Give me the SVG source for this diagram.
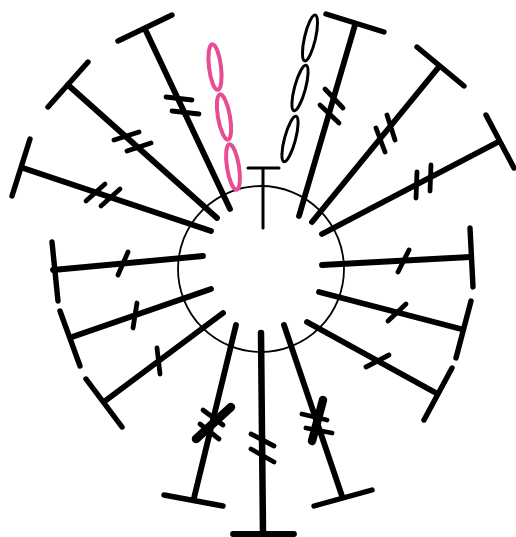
<svg xmlns="http://www.w3.org/2000/svg" width="516" height="537" viewBox="0 0 516 537">
<style>
.s{fill:none;stroke:#000;stroke-linecap:round;stroke-width:5.8}
.b{stroke-width:5.4}
.t{stroke-width:4.8}
.k{stroke-width:8.5}
.r{fill:none;stroke:#000;stroke-width:1.8}
.c{fill:none;stroke:#000;stroke-width:3;stroke-linecap:round}
.e{fill:none;stroke:#000;stroke-width:3}
.p{fill:none;stroke:#e64d94;stroke-width:4}
</style>
<rect width="516" height="537" fill="#fff"/>
<g id="ring"><circle class="r" cx="261" cy="269" r="83"/></g>
<g id="center-stitch"><path class="c" d="M263 228V168M248 168H279"/></g>
<g id="pink-chain">
<ellipse class="p" cx="215" cy="67" rx="6" ry="23" transform="rotate(-7 215 67)"/>
<ellipse class="p" cx="224" cy="117" rx="6" ry="23" transform="rotate(-10 224 117)"/>
<ellipse class="p" cx="233" cy="167" rx="6" ry="23" transform="rotate(-9 233 167)"/>
</g>
<g id="black-chain">
<ellipse class="e" cx="310" cy="38" rx="5.5" ry="23.5" transform="rotate(13 310 38)"/>
<ellipse class="e" cx="300" cy="88" rx="5.5" ry="23.5" transform="rotate(15 300 88)"/>
<ellipse class="e" cx="290" cy="139" rx="5.5" ry="23.5" transform="rotate(15 290 139)"/>
</g>
<g id="spoke-1"><path class="s" d="M230 209L145 29"/><path class="s b" d="M118 41L172 15"/><path class="s t" d="M166 97L192 100M172 111L199 114"/></g>
<g id="spoke-2"><path class="s" d="M217 218L68 85"/><path class="s b" d="M48 107L88 62"/><path class="s t" d="M114 140L139 132M127 151L151 143"/></g>
<g id="spoke-3"><path class="s" d="M211 231L23 168"/><path class="s b" d="M30 139L12 196"/><path class="s t" d="M86 201L105 184M101 206L120 189"/></g>
<g id="spoke-4"><path class="s" d="M203 256L53 270"/><path class="s b" d="M52 242L58 301"/><path class="s t" d="M128 252L118 275"/></g>
<g id="spoke-5"><path class="s" d="M211 289L72 337"/><path class="s b" d="M60 311L80 366"/><path class="s t" d="M137 303L133 328"/></g>
<g id="spoke-6"><path class="s" d="M223 313L105 401"/><path class="s b" d="M86 379L122 427"/><path class="s t" d="M157 348L160 374"/></g>
<g id="spoke-7"><path class="s" d="M236 325L194 498"/><path class="s b" d="M164 495L223 506"/><path class="s t" d="M203 410L223 425M200 424L219 439"/><path class="s k" d="M231 407L196 439"/></g>
<g id="spoke-8"><path class="s" d="M261 333L263 534" style="stroke-width:6.5"/><path class="s" d="M233 534H294"/><path class="s t" d="M251 434L274 446M251 449L274 462"/></g>
<g id="spoke-9"><path class="s" d="M284 325L342 496"/><path class="s b" d="M314 506L372 490"/><path class="s t" d="M302 414L327 420M306 428L332 433"/><path class="s k" d="M323 400L312 441"/></g>
<g id="spoke-10"><path class="s" d="M307 322L436 393"/><path class="s b" d="M452 368L424 420"/><path class="s t" d="M389 355L366 367"/></g>
<g id="spoke-11"><path class="s" d="M319 292L461 329"/><path class="s b" d="M471 301L456 358"/><path class="s t" d="M406 304L388 321"/></g>
<g id="spoke-12"><path class="s" d="M322 265L470 257"/><path class="s b" d="M470 228L473 287"/><path class="s t" d="M409 250L398 272"/></g>
<g id="spoke-13"><path class="s" d="M322 234L498 142"/><path class="s b" d="M486 115L514 168"/><path class="s t" d="M417 172L416 198M431 165L430 191"/></g>
<g id="spoke-14"><path class="s" d="M312 222L438 68"/><path class="s b" d="M417 47L464 86"/><path class="s t" d="M376 128L385 152M387 115L395 140"/></g>
<g id="spoke-15"><path class="s" d="M299 216L355 25"/><path class="s b" d="M326 14L384 32"/><path class="s t" d="M325 89L343 108M320 105L339 123"/></g>
</svg>
